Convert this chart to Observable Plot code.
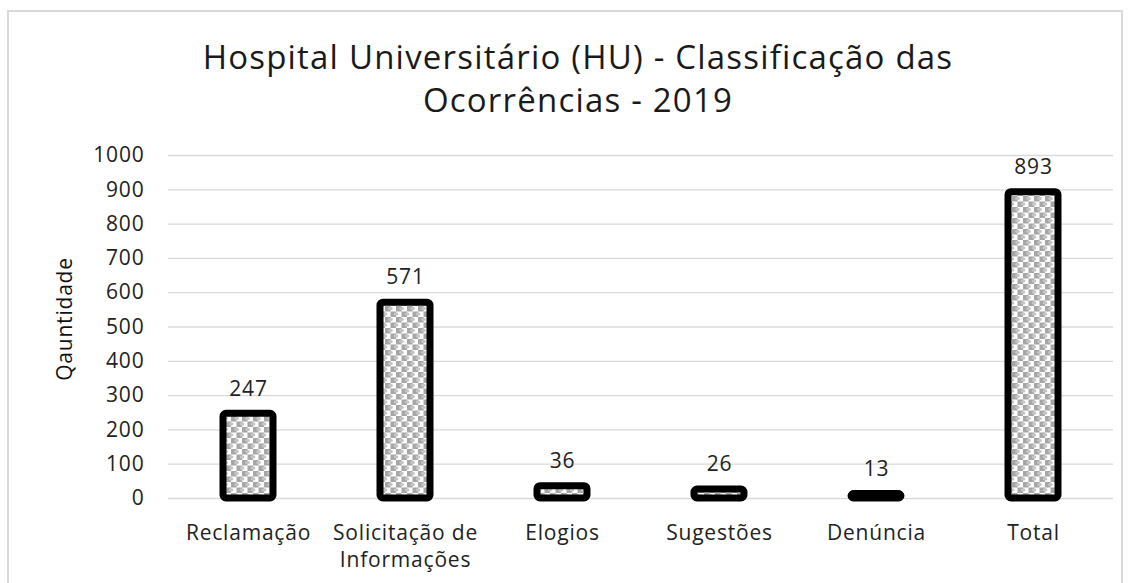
<!DOCTYPE html>
<html><head><meta charset="utf-8">
<script src="https://cdn.jsdelivr.net/npm/d3@7"></script>
<script src="https://cdn.jsdelivr.net/npm/@observablehq/plot@0.6"></script>
<style>
body{margin:0;background:#fff;font-family:"Open Sans",sans-serif;}
#wrap{position:relative;width:1134px;height:583px;overflow:hidden;}
#border{position:absolute;left:7px;top:10px;width:1116px;height:600px;border:2px solid #d9d9d9;box-sizing:border-box;}
#title{position:relative;height:130px;text-align:center;font-size:33px;letter-spacing:1.2px;color:#1a1a1a;line-height:43px;padding-top:35px;padding-left:22px;box-sizing:border-box;}
#chart{position:relative;}
</style></head>
<body><div id="wrap"><div id="border"></div>
<div id="title">Hospital Universitário (HU) - Classificação das<br>Ocorrências - 2019</div>
<div id="chart"></div></div>
<script>
const categories = ["Reclamação", "Solicitação de\nInformações", "Elogios", "Sugestões", "Denúncia", "Total"];
const values = [247, 571, 36, 26, 13, 893];
const yTicks = [0,100,200,300,400,500,600,700,800,900,1000];
const data = categories.map((c,i)=>({cat:c, v:values[i]}));

const plot = Plot.plot({
  width:1134, height:453,
  marginTop:25, marginBottom:85, marginLeft:168, marginRight:21,
  style:{fontFamily:"Open Sans", fontSize:"21px", color:"#222", background:"transparent", letterSpacing:"0.8px"},
  x:{domain:categories, paddingInner:0.68, paddingOuter:0.34, label:null},
  y:{domain:[0,1000], ticks:yTicks, label:null},
  marks:[
    Plot.gridY(yTicks, {stroke:"#d9d9d9", strokeOpacity:1, strokeWidth:1.3}),
    Plot.axisY(yTicks, {tickSize:0, tickPadding:24, fontSize:21, tickFormat:d=>String(d), label:null}),
    Plot.axisX({tickSize:0, tickPadding:22, fontSize:21, lineHeight:1.3, label:null}),
    Plot.barY(data, {x:"cat", y:"v", fill:"url(#hatch)", stroke:"#000", strokeWidth:7, rx:3, strokeLinejoin:"round"}),
    Plot.text(data, {x:"cat", y:"v", text:d=>String(d.v), dy:-25, fontSize:21, fill:"#222"}),
    Plot.text(["Qauntidade"], {frameAnchor:"left", textAnchor:"middle", dx:-103, dy:-8, rotate:-90, fontSize:21, fill:"#111"})
  ]
});
const svg = d3.select(plot);
const defs = svg.insert("defs",":first-child");
const p = defs.append("pattern").attr("id","hatch").attr("patternUnits","userSpaceOnUse").attr("width",11).attr("height",11);
p.append("rect").attr("width",11).attr("height",11).attr("fill","#ffffff");
p.append("rect").attr("x",0).attr("y",0).attr("width",5.5).attr("height",5.5).attr("fill","#a6a6a6");
p.append("rect").attr("x",5.5).attr("y",5.5).attr("width",5.5).attr("height",5.5).attr("fill","#a6a6a6");
[[5.5,2.5],[0,8],[11,8]].forEach(([cx,cy])=>p.append("ellipse").attr("cx",cx).attr("cy",cy).attr("rx",2.4).attr("ry",1.8).attr("fill","#c4c4c4"));
document.getElementById("chart").appendChild(plot);
</script></body></html>
